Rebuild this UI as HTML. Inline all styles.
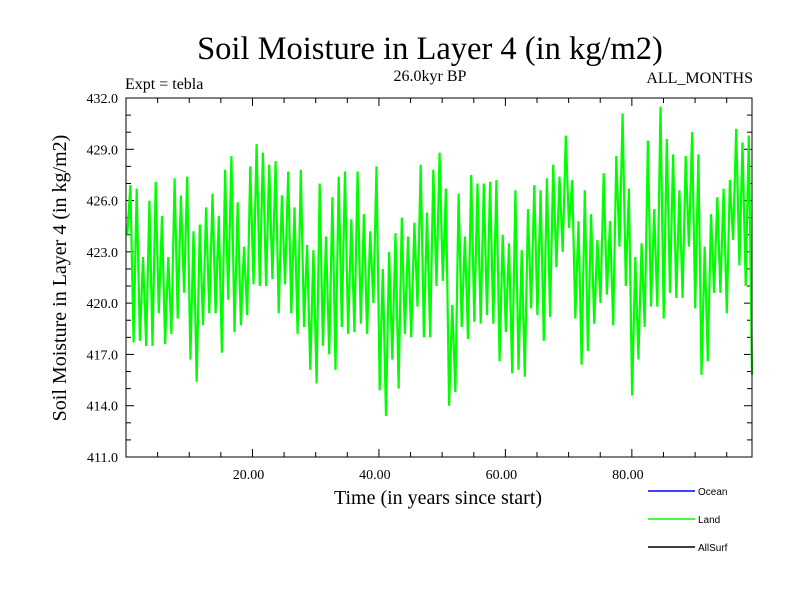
<!DOCTYPE html>
<html><head><meta charset="utf-8"><style>
body{margin:0;background:#fff;}
svg text{font-family:"Liberation Serif",serif;}
</style></head><body>
<svg id="chart" width="800" height="600" viewBox="0 0 800 600" xmlns="http://www.w3.org/2000/svg">
<rect width="800" height="600" fill="#fff"/>
<text x="430" y="59" font-size="32.5" text-anchor="middle">Soil Moisture in Layer 4 (in kg/m2)</text>
<text x="125" y="89" font-size="16">Expt = tebla</text>
<text x="430" y="81" font-size="16" text-anchor="middle">26.0kyr BP</text>
<text x="753" y="83" font-size="16" text-anchor="end">ALL_MONTHS</text>
<text transform="translate(66,278) rotate(-90)" font-size="20" text-anchor="middle">Soil Moisture in Layer 4 (in kg/m2)</text>
<text x="438" y="504" font-size="20" text-anchor="middle">Time (in years since start)</text>
<g id="ticks"></g>
<g id="series"></g>
<rect x="126" y="98" width="626" height="359" fill="none" stroke="#000" stroke-width="1"/>
<g>
<line x1="648" y1="491" x2="695" y2="491" stroke="#0000ff" stroke-width="1.5"/>
<text x="698" y="495" font-size="10" style="font-family:'Liberation Sans',sans-serif">Ocean</text>
<line x1="648" y1="519" x2="695" y2="519" stroke="#00ff00" stroke-width="1.5"/>
<text x="698" y="523" font-size="10" style="font-family:'Liberation Sans',sans-serif">Land</text>
<line x1="648" y1="547" x2="695" y2="547" stroke="#000" stroke-width="1.5"/>
<text x="698" y="551" font-size="10" style="font-family:'Liberation Sans',sans-serif">AllSurf</text>
</g>
</svg>
<script>
const xTickValues=[20,40,60,80];
const xTickLabels=["20.00","40.00","60.00","80.00"];
const yTickValues=[411,414,417,420,423,426,429,432];
const yTickLabels=["411.0","414.0","417.0","420.0","423.0","426.0","429.0","432.0"];
const xDomain=[0,99];
const yDomain=[411,432];
// alternating seasonal peak / trough values (kg/m2)
const landValues=[
424.0,426.9,417.7,426.7,417.8,422.7,417.5,426.0,417.5,427.1,419.4,425.1,417.6,422.7,418.2,427.3,419.1,426.3,420.6,427.4,416.7,424.2,415.4,424.6,418.7,425.6,419.4,426.4,419.4,425.1,417.1,427.8,420.2,428.6,418.3,425.9,418.7,423.3,419.3,428.0,421.1,429.3,421.0,428.8,421.0,428.1,421.4,428.3,419.4,
426.3,421.1,427.7,419.4,425.6,418.2,427.8,418.6,423.4,416.1,423.1,415.3,427.0,417.5,423.9,417.0,426.2,416.1,427.4,418.6,427.7,418.2,424.9,418.3,427.7,418.8,425.2,418.2,424.2,420.0,428.0,414.9,422.0,413.4,423.0,416.7,424.1,415.0,425.0,418.2,423.9,418.0,424.7,419.8,428.1,418.0,425.3,418.0,
427.8,421.0,428.8,421.3,426.7,414.0,419.9,414.8,426.4,418.6,423.9,417.9,427.5,418.9,427.0,418.8,427.0,419.3,427.1,418.8,427.2,416.6,424.0,418.3,423.5,415.9,426.6,416.1,423.1,415.7,425.5,419.7,426.9,419.3,426.6,417.8,427.3,419.2,428.1,422.1,427.4,423.0,429.8,424.4,427.2,419.1,424.8,416.4,426.6,417.2,
425.2,418.8,423.7,420.0,427.6,420.5,424.8,418.7,428.6,423.3,431.1,421.0,426.7,414.6,422.7,416.7,423.5,418.6,429.5,419.8,425.5,419.8,431.5,419.1,429.6,420.6,428.7,420.3,426.6,420.3,428.6,423.3,430.0,419.7,428.7,415.8,423.3,416.6,425.2,420.6,426.2,420.6,426.7,419.4,427.2,423.7,430.2,422.2,429.4,421.0,429.8,415.8
];
const L=126,R=752,T=98,B=457;
const xScale=v=>L+(v-xDomain[0])/(xDomain[1]-xDomain[0])*(R-L);
const yScale=v=>B-(v-yDomain[0])/(yDomain[1]-yDomain[0])*(B-T);
const NS="http://www.w3.org/2000/svg";
const tg=document.getElementById('ticks');
function ln(x1,y1,x2,y2){const l=document.createElementNS(NS,'line');l.setAttribute('x1',x1);l.setAttribute('y1',y1);l.setAttribute('x2',x2);l.setAttribute('y2',y2);l.setAttribute('stroke','#000');l.setAttribute('stroke-width','1');


tg.appendChild(l);}
for(let v=5;v<xDomain[1];v+=5){const x=xScale(v);const len=(v%20===0)?8:5;ln(x,B,x,B-len);ln(x,T,x,T+len);}
for(let v=yDomain[0]+1;v<yDomain[1];v+=1){const y=yScale(v);const len=((v-411)%3===0)?8:5;ln(L,y,L+len,y);ln(R,y,R-len,y);}
xTickValues.forEach((v,i)=>{const t=document.createElementNS(NS,'text');t.setAttribute('x',xScale(v)-4);t.setAttribute('y',479);t.setAttribute('font-size','14');t.setAttribute('text-anchor','middle');t.textContent=xTickLabels[i];


tg.appendChild(t);});
yTickValues.forEach((v,i)=>{const t=document.createElementNS(NS,'text');t.setAttribute('x',118);t.setAttribute('y',yScale(v)+5);t.setAttribute('font-size','14');t.setAttribute('text-anchor','end');t.textContent=yTickLabels[i];


tg.appendChild(t);});
const n=landValues.length;
const pts=landValues.map((v,i)=>{const tx=xDomain[0]+0.2+i*(xDomain[1]-xDomain[0]-0.2)/(n-1);return xScale(tx).toFixed(1)+','+yScale(v).toFixed(1);}).join(' ');
const pl=document.createElementNS(NS,'polyline');
pl.setAttribute('points',pts);pl.setAttribute('fill','none');pl.setAttribute('stroke','#00ff00');pl.setAttribute('stroke-width','2.2');


document.getElementById('series').appendChild(pl);
</script>
</body></html>
